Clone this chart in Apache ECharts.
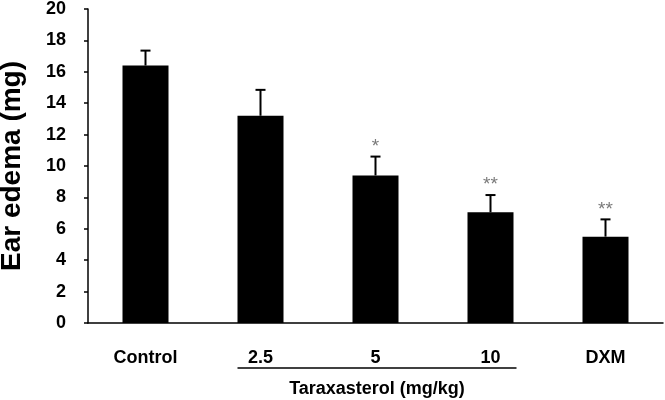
<!DOCTYPE html>
<html>
<head>
<meta charset="utf-8">
<script src="https://cdn.jsdelivr.net/npm/echarts@6/dist/echarts.min.js"></script>
<style>html,body{margin:0;padding:0;background:#fff}#c{width:665px;height:400px}</style>
</head>
<body>
<div id="c"></div>
<script>
var categories = ["Control", "2.5", "5", "10", "DXM"];
var means = [16.4, 13.2, 9.4, 7.05, 5.5];
var errors = [0.95, 1.65, 1.2, 1.1, 1.1];
var stars = ["", "", "*", "**", "**"];
var yTicks = {min: 0, max: 20, interval: 2};
var groupLabel = "Taraxasterol (mg/kg)";
var yTitle = "Ear edema (mg)";

var FONT = '"Liberation Sans", Arial, sans-serif';
var chart = echarts.init(document.getElementById('c'), null, {renderer: 'canvas'});

var errData = means.map(function (m, i) { return [i, m, errors[i], stars[i]]; });

chart.setOption({
  animation: false,
  backgroundColor: '#fff',
  grid: {left: 88, right: 2, top: 9, bottom: 77, containLabel: false, outerBoundsMode: 'none'},
  xAxis: {
    type: 'category',
    data: categories,
    boundaryGap: true,
    axisLine: {lineStyle: {color: '#000', width: 1.5}},
    axisTick: {inside: true, length: 6, lineStyle: {color: '#000', width: 1.5}},
    axisLabel: {color: '#000', fontFamily: FONT, fontWeight: 'bold', fontSize: 18, margin: 26}
  },
  yAxis: {
    type: 'value',
    min: yTicks.min, max: yTicks.max, interval: yTicks.interval,
    name: yTitle,
    nameLocation: 'middle',
    nameGap: 62,
    nameTextStyle: {color: '#000', fontFamily: FONT, fontWeight: 'bold', fontSize: 28},
    splitLine: {show: false},
    axisLine: {show: true, lineStyle: {color: '#000', width: 1.5}},
    axisTick: {show: true, inside: false, length: 4, lineStyle: {color: '#000', width: 1.5}},
    axisLabel: {color: '#000', fontFamily: FONT, fontWeight: 'bold', fontSize: 18, margin: 22}
  },
  series: [
    {
      type: 'bar',
      data: means,
      barWidth: '40%',
      itemStyle: {color: '#000'},
      z: 2
    },
    {
      type: 'custom',
      data: errData,
      z: 3,
      renderItem: function (params, api) {
        var i = api.value(0), m = api.value(1), e = api.value(2);
        var s = errData[params.dataIndex][3];
        var pb = api.coord([i, m]);
        var pt = api.coord([i, m + e]);
        var children = [
          {type: 'line', shape: {x1: pb[0], y1: pb[1], x2: pt[0], y2: pt[1]}, style: {stroke: '#000', lineWidth: 2}},
          {type: 'line', shape: {x1: pt[0] - 5, y1: pt[1], x2: pt[0] + 5, y2: pt[1]}, style: {stroke: '#000', lineWidth: 2}}
        ];
        if (s) {
          children.push({type: 'text', style: {text: s, x: pt[0], y: pt[1] - 10, textAlign: 'center', textVerticalAlign: 'middle', fill: '#7a7a7a', font: '19px ' + FONT}});
        }
        return {type: 'group', children: children};
      }
    }
  ]
});

// group label under doses 2.5, 5, 10
var c1 = chart.convertToPixel({xAxisIndex: 0}, categories[1]);
var c3 = chart.convertToPixel({xAxisIndex: 0}, categories[3]);
var c0 = chart.convertToPixel({xAxisIndex: 0}, categories[0]);
var bandW = c1 - c0;
var halfBar = bandW * 0.2;
var x1 = c1 - halfBar, x2 = c3 + halfBar + 3;
var y0 = chart.convertToPixel({yAxisIndex: 0}, 0);
chart.setOption({
  graphic: [
    {type: 'line', shape: {x1: x1, y1: y0 + 45, x2: x2, y2: y0 + 45}, style: {stroke: '#000', lineWidth: 1.5}},
    {type: 'text', x: (x1 + x2) / 2, y: y0 + 66, style: {text: groupLabel, textAlign: 'center', textVerticalAlign: 'middle', fill: '#000', font: 'bold 18px ' + FONT}}
  ]
});
</script>
</body>
</html>
